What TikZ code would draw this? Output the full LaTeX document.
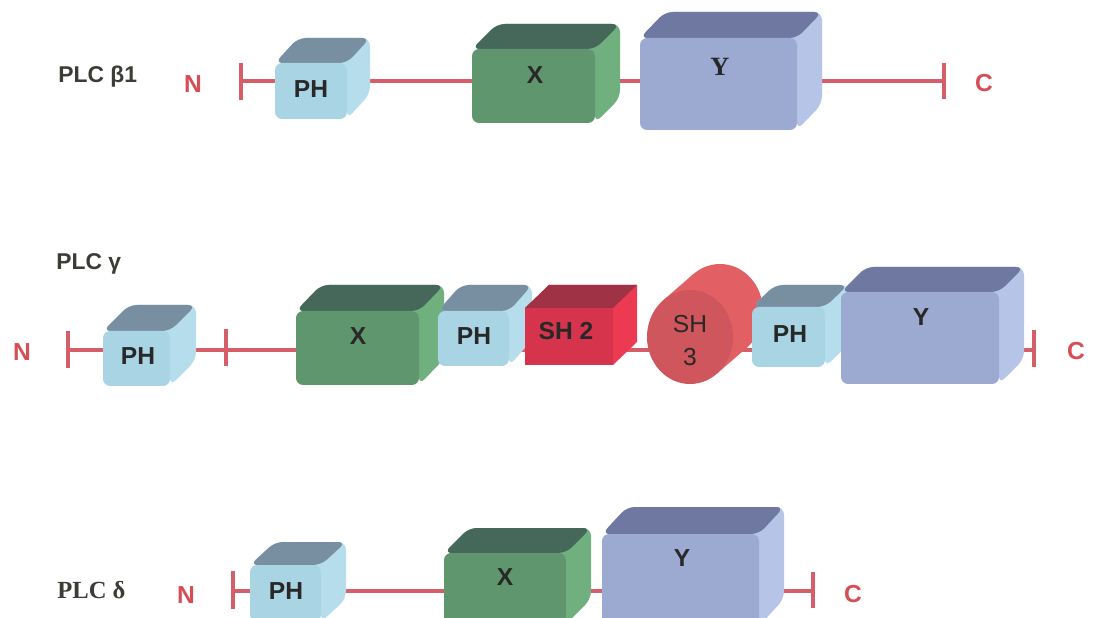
\documentclass[tikz,border=0pt]{standalone}
\usepackage{fontspec}
\setmainfont{Liberation Sans}
\newfontfamily\serifbf{Liberation Serif}
\usetikzlibrary{shapes.geometric,calc}
\pgfdeclarelayer{bg}
\pgfdeclarelayer{lines}
\pgfdeclarelayer{faces}
\pgfsetlayers{bg,lines,faces,main}
\definecolor{lineC}{RGB}{214,94,104}
\definecolor{redT}{RGB}{214,78,84}
\definecolor{plcc}{RGB}{60,60,55}
\definecolor{txt}{RGB}{40,40,40}
\definecolor{phF}{RGB}{168,212,227}
\definecolor{phT}{RGB}{120,143,162}
\definecolor{phS}{RGB}{182,221,236}
\definecolor{xF}{RGB}{96,150,110}
\definecolor{xT}{RGB}{70,104,90}
\definecolor{xS}{RGB}{112,176,126}
\definecolor{yF}{RGB}{156,170,210}
\definecolor{yT}{RGB}{110,120,160}
\definecolor{yS}{RGB}{182,196,232}
\definecolor{shF}{RGB}{214,52,76}
\definecolor{shT}{RGB}{160,50,70}
\definecolor{shS}{RGB}{236,58,82}
\definecolor{sh3F}{RGB}{206,86,92}
\definecolor{sh3B}{RGB}{226,96,100}
% front face node: name, x1, y1, x2, y2, style
\newcommand\frontbox[6]{%
  \node[#6, minimum width={(#4-#2)*0.02cm}, minimum height={(#5-#3)*0.02cm}] (#1) at ({(#2+#4)/2},{(#3+#5)/2}) {};}
% faces behind a front node: name, dx, dy, top colour, side colour, extra options
\newcommand\cubefaces[6]{%
  \begin{pgfonlayer}{faces}
  \fill[#5, rounded corners=4.5pt, #6] (#1.north west) -- ([shift={(#2,#3)}]#1.north west) -- ([shift={(#2,#3)}]#1.north east)
     -- ([shift={(#2,#3)}]#1.south east) -- (#1.south east) -- (#1.north east) -- cycle;
  \fill[#4, rounded corners=4.5pt, #6] (#1.north west) -- ([shift={(#2,#3)}]#1.north west) -- ([shift={(#2,#3)}]#1.north east)
     -- (#1.north east) -- cycle;
  \end{pgfonlayer}}
\begin{document}
\begin{tikzpicture}[x=0.02cm,y=-0.02cm,
  boxbase/.style={inner sep=0pt, outer sep=0pt, rounded corners=4pt},
  phbox/.style={boxbase, fill=phF},
  xbox/.style={boxbase, fill=xF},
  ybox/.style={boxbase, fill=yF},
  shbox/.style={boxbase, sharp corners, fill=shF},
  boxtext/.style={font=\fontsize{14}{16}\selectfont\bfseries, text=txt},
  sh3text/.style={font=\fontsize{14}{16}\selectfont, text=txt},
  plc/.style={font=\fontsize{13}{15}\selectfont\bfseries, text=plcc, anchor=west, inner sep=0pt},
  term/.style={font=\fontsize{14}{16}\selectfont\bfseries, text=redT},
  chain/.style={draw=lineC, line width=2.8pt},
  tickmark/.style={draw=lineC, line width=2.2pt}]
\useasboundingbox (0,0) rectangle (1096,618);
\begin{pgfonlayer}{bg}
\fill[white] (0,0) rectangle (1096,618);
\end{pgfonlayer}

% ---------------- Row 1: PLC beta1 ----------------
\node[plc] (lab1) at (58,77) {PLC β1};
\node[term] (n1) at (193,84) {N};
\node[term] (c1) at (984,83) {C};
\coordinate (a1) at (241,81);
\coordinate (b1) at (944,81);
\begin{pgfonlayer}{lines}
\draw[chain] (a1) -- (b1);
\draw[tickmark] (241,63) -- (241,100);
\draw[tickmark] (944,63) -- (944,99);
\end{pgfonlayer}
\frontbox{ph1}{275}{63}{347}{119}{phbox}
\cubefaces{ph1}{23}{-25}{phT}{phS}{}
\node[boxtext] at (311,89) {PH};
\frontbox{x1}{472}{49}{595}{123}{xbox}
\cubefaces{x1}{25}{-25}{xT}{xS}{}
\node[boxtext] at (535,75) {X};
\frontbox{y1}{640}{38}{797}{130}{ybox}
\cubefaces{y1}{25}{-26}{yT}{yS}{}
\node[boxtext, font=\fontsize{15}{17}\selectfont\serifbf\bfseries] at (720,67) {Y};

% ---------------- Row 2: PLC gamma ----------------
\node[plc] (lab2) at (56,264) {PLC γ};
\node[term] (n2) at (22,352) {N};
\node[term] (c2) at (1076,351) {C};
\coordinate (a2) at (68,350);
\coordinate (b2) at (1034,350);
\begin{pgfonlayer}{lines}
\draw[chain] (a2) -- (b2);
\draw[tickmark] (68,331) -- (68,368);
\draw[tickmark] (226,329) -- (226,366);
\draw[tickmark] (1034,330) -- (1034,367);
\end{pgfonlayer}
\frontbox{ph2a}{103}{331}{170}{386}{phbox}
\cubefaces{ph2a}{26}{-26}{phT}{phS}{}
\node[boxtext] at (138,356) {PH};
\frontbox{x2}{296}{311}{419}{385}{xbox}
\cubefaces{x2}{25}{-26}{xT}{xS}{}
\node[boxtext] at (358,336) {X};
\frontbox{ph2b}{438}{311}{509}{366}{phbox}
\cubefaces{ph2b}{23}{-26}{phT}{phS}{}
\node[boxtext] at (474,336) {PH};
\frontbox{sh2}{525}{308}{613}{365}{shbox}
\cubefaces{sh2}{24}{-23}{shT}{shS}{sharp corners}
\node[boxtext] at (566,331) {SH 2};
% SH3 cylinder
\begin{pgfonlayer}{faces}
\fill[sh3B] (720,311) ellipse [x radius=43, y radius=47];
\fill[sh3B] ($(690,337)+(26.7,36.8)$) -- ($(720,311)+(26.7,36.8)$) -- ($(720,311)-(26.7,36.8)$) -- ($(690,337)-(26.7,36.8)$) -- cycle;
\end{pgfonlayer}
\node[ellipse, fill=sh3F, inner sep=0pt, minimum width={86*0.02cm}, minimum height={94*0.02cm}] (sh3) at (690,337) {};
\node[sh3text] at (690,324) {SH};
\node[sh3text] at (690,357) {3};
\frontbox{ph2c}{752}{307}{825}{367}{phbox}
\cubefaces{ph2c}{23}{-22}{phT}{phS}{}
\node[boxtext] at (790,334) {PH};
\frontbox{y2}{841}{292}{999}{384}{ybox}
\cubefaces{y2}{25}{-25}{yT}{yS}{}
\node[boxtext] at (921,317) {Y};

% ---------------- Row 3: PLC delta ----------------
\node[plc, font=\fontsize{14}{16}\selectfont\serifbf\bfseries] (lab3) at (57,590) {PLC δ};
\node[term] (n3) at (186,595) {N};
\node[term] (c3) at (853,594) {C};
\coordinate (a3) at (233,591);
\coordinate (b3) at (813,591);
\begin{pgfonlayer}{lines}
\draw[chain] (a3) -- (b3);
\draw[tickmark] (233,571) -- (233,609);
\draw[tickmark] (813,572) -- (813,608);
\end{pgfonlayer}
\frontbox{ph3}{250}{565}{321}{622}{phbox}
\cubefaces{ph3}{25}{-23}{phT}{phS}{}
\node[boxtext] at (286,591) {PH};
\frontbox{x3}{444}{553}{566}{624}{xbox}
\cubefaces{x3}{25}{-25}{xT}{xS}{}
\node[boxtext] at (505,577) {X};
\frontbox{y3}{602}{534}{759}{626}{ybox}
\cubefaces{y3}{25}{-27}{yT}{yS}{}
\node[boxtext] at (682,558) {Y};
\end{tikzpicture}
\end{document}
